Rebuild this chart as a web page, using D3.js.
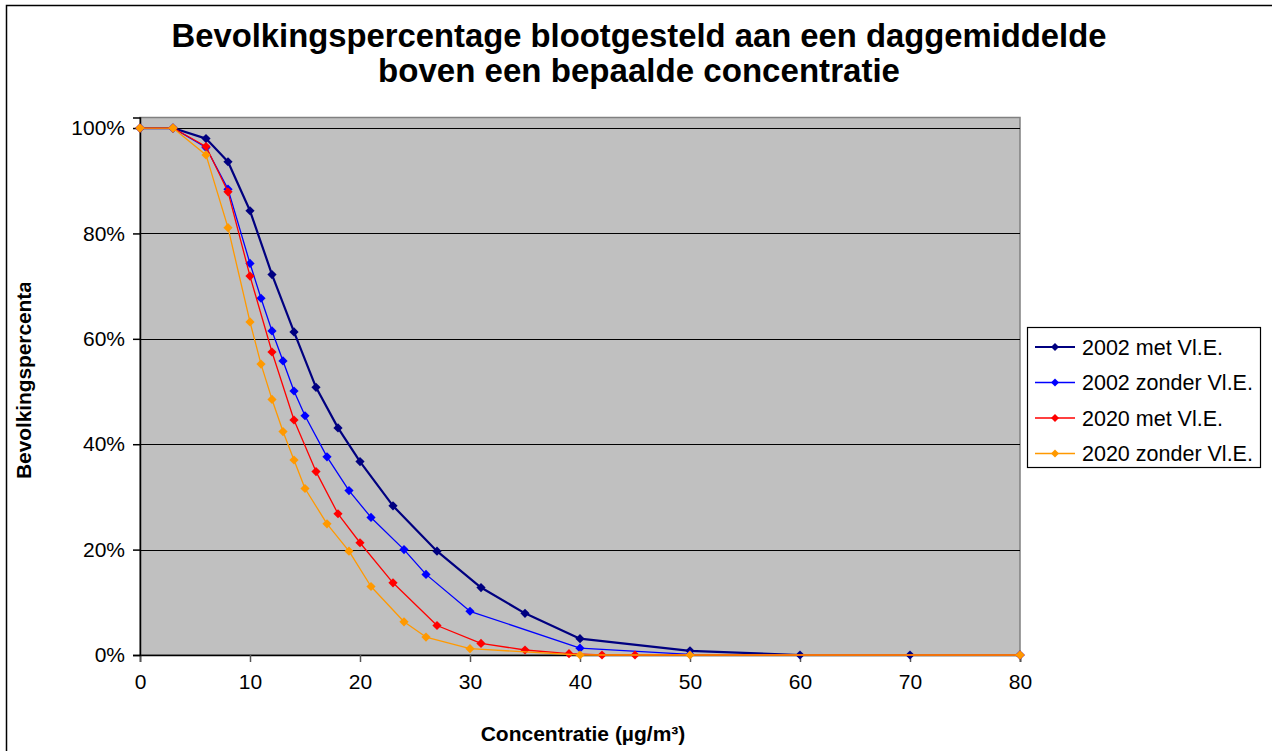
<!DOCTYPE html>
<html>
<head>
<meta charset="utf-8">
<script src="https://cdn.jsdelivr.net/npm/d3@7"></script>
<style>
  html, body { margin: 0; padding: 0; background: #fff; }
  svg { display: block; font-family: "Liberation Sans", Arial, sans-serif; }
</style>
</head>
<body>
<svg id="chart" width="1272" height="751"></svg>
<script>
// Concentration thresholds (µg/m³) per series and share of population above them (%)
const xMet2002 = [0, 3, 6, 8, 10, 12, 14, 16, 18, 20, 23, 27, 31, 35, 40, 50, 60, 70, 80];
const yMet2002 = [100, 100, 98.0, 93.6, 84.3, 72.2, 61.3, 50.8, 43.1, 36.7, 28.3, 19.7, 12.8, 7.9, 3.1, 0.8, 0, 0, 0];

const xZonder2002 = [0, 3, 6, 8, 10, 11, 12, 13, 14, 15, 17, 19, 21, 24, 26, 30, 40, 50, 80];
const yZonder2002 = [100, 100, 96.3, 88.4, 74.3, 67.7, 61.5, 55.8, 50.1, 45.4, 37.6, 31.2, 26.1, 20.0, 15.3, 8.3, 1.3, 0.1, 0];

const xMet2020 = [0, 3, 6, 8, 10, 12, 14, 16, 18, 20, 23, 27, 31, 35, 39, 42, 45, 80];
const yMet2020 = [100, 100, 96.5, 87.9, 71.9, 57.5, 44.6, 34.8, 26.8, 21.3, 13.7, 5.6, 2.2, 0.95, 0.25, 0, 0, 0];

const xZonder2020 = [0, 3, 6, 8, 10, 11, 12, 13, 14, 15, 17, 19, 21, 24, 26, 30, 40, 50, 80];
const yZonder2020 = [100, 100, 94.9, 81.1, 63.2, 55.2, 48.5, 42.4, 37.0, 31.6, 24.9, 19.7, 13.0, 6.3, 3.4, 1.2, 0, 0, 0];

const seriesNames = ["2002 met Vl.E.", "2002 zonder Vl.E.", "2020 met Vl.E.", "2020 zonder Vl.E."];
const seriesColors = ["#000080", "#0000FF", "#FF0000", "#FF9900"];
const seriesWidths = [2.2, 1.3, 1.3, 1.3];

const xTicks = [0, 10, 20, 30, 40, 50, 60, 70, 80];
const yTicks = [0, 20, 40, 60, 80, 100];

const titleLines = ["Bevolkingspercentage blootgesteld aan een daggemiddelde", "boven een bepaalde concentratie"];
const titleWidths = [935, 522];
const xTitle = "Concentratie (µg/m³)";
const yTitle = "Bevolkingspercentage";

const series = [
  { xs: xMet2002, ys: yMet2002 },
  { xs: xZonder2002, ys: yZonder2002 },
  { xs: xMet2020, ys: yMet2020 },
  { xs: xZonder2020, ys: yZonder2020 }
].map((s, i) => ({
  name: seriesNames[i], color: seriesColors[i], width: seriesWidths[i],
  points: s.xs.map((x, j) => ({ x, y: s.ys[j] }))
}));

const svg = d3.select("#chart");

// outer chart frame
svg.append("rect").attr("x", 6.5).attr("y", 5.5).attr("width", 1400).attr("height", 900)
  .attr("fill", "#fff").attr("stroke", "#000").attr("stroke-width", 1.5);

const plot = { left: 140, right: 1020, top: 117.5, bottom: 655 };
const x = d3.scaleLinear().domain([0, 80]).range([plot.left, plot.right]);
const y = d3.scaleLinear().domain([0, 102]).range([plot.bottom, plot.top]);

// plot background
svg.append("rect")
  .attr("x", plot.left).attr("y", plot.top)
  .attr("width", plot.right - plot.left).attr("height", plot.bottom - plot.top)
  .attr("fill", "#C0C0C0").attr("stroke", "#808080").attr("stroke-width", 1.5);

// horizontal grid lines
svg.append("g").selectAll("line").data(yTicks.filter(d => d > 0)).join("line")
  .attr("x1", plot.left).attr("x2", plot.right)
  .attr("y1", d => Math.round(y(d)) + 0.5).attr("y2", d => Math.round(y(d)) + 0.5)
  .attr("stroke", "#000").attr("stroke-width", 1);

// axes
const xAxis = d3.axisBottom(x).tickValues(xTicks).tickSize(7).tickPadding(12).tickFormat(d3.format("d"));
const gx = svg.append("g").attr("transform", `translate(0,${plot.bottom})`).call(xAxis);
gx.select(".domain").attr("stroke", "#000").attr("stroke-width", 1.5);
gx.selectAll(".tick line").attr("stroke", "#555").attr("stroke-width", 1.5);
gx.selectAll(".tick text").attr("font-size", 21).attr("fill", "#000")
  .attr("font-family", "Liberation Sans, Arial, sans-serif");

const yAxis = d3.axisLeft(y).tickValues(yTicks).tickSize(7).tickPadding(8).tickFormat(d => d + "%");
const gy = svg.append("g").attr("transform", `translate(${plot.left},0)`).call(yAxis);
gy.select(".domain").attr("stroke", "#000").attr("stroke-width", 1.5);
gy.selectAll(".tick line").attr("stroke", "#000").attr("stroke-width", 1.5);
gy.selectAll(".tick text").attr("font-size", 21).attr("fill", "#000")
  .attr("font-family", "Liberation Sans, Arial, sans-serif");

// diamond marker path
const diamond = r => `M0,${-r}L${r},0L0,${r}L${-r},0Z`;

const line = d3.line().x(d => x(d.x)).y(d => y(d.y));

const gSeries = svg.append("g");
series.forEach(s => {
  const g = gSeries.append("g");
  g.append("path").datum(s.points).attr("d", line)
    .attr("fill", "none").attr("stroke", s.color).attr("stroke-width", s.width)
    .attr("stroke-linejoin", "round");
  g.selectAll("path.m").data(s.points).join("path").attr("class", "m")
    .attr("transform", d => `translate(${x(d.x)},${y(d.y)})`)
    .attr("d", diamond(4.6)).attr("fill", s.color);
});

// title
svg.append("g").selectAll("text").data(titleLines).join("text")
  .attr("x", 639).attr("y", (d, i) => 47 + i * 35)
  .attr("text-anchor", "middle").attr("font-weight", "bold").attr("font-size", 33)
  .attr("textLength", (d, i) => titleWidths[i]).attr("lengthAdjust", "spacingAndGlyphs")
  .text(d => d);

// axis titles
svg.append("text").attr("x", 583).attr("y", 741).attr("text-anchor", "middle")
  .attr("font-weight", "bold").attr("font-size", 21).text(xTitle);

svg.append("clipPath").attr("id", "ytitle-clip")
  .append("rect").attr("x", 0).attr("y", 283).attr("width", 60).attr("height", 300);
svg.append("g").attr("clip-path", "url(#ytitle-clip)")
  .append("text").attr("transform", "translate(31,479) rotate(-90)")
  .attr("text-anchor", "start").attr("font-weight", "bold").attr("font-size", 21)
  .attr("letter-spacing", -0.1)
  .text(yTitle);

// legend
const legend = svg.append("g");
legend.append("rect").attr("x", 1027.5).attr("y", 327.5).attr("width", 233).attr("height", 140)
  .attr("fill", "#fff").attr("stroke", "#000").attr("stroke-width", 1.2);
const rows = legend.selectAll("g.row").data(series).join("g").attr("class", "row")
  .attr("transform", (d, i) => `translate(0,${347 + i * 35.5})`);
rows.append("line").attr("x1", 1035).attr("x2", 1075).attr("y1", 0).attr("y2", 0)
  .attr("stroke", d => d.color).attr("stroke-width", d => d.width);
rows.append("path").attr("transform", "translate(1055,0)").attr("d", diamond(4))
  .attr("fill", d => d.color);
rows.append("text").attr("x", 1082).attr("y", 7.5).attr("font-size", 21.5).text(d => d.name);
</script>
</body>
</html>
